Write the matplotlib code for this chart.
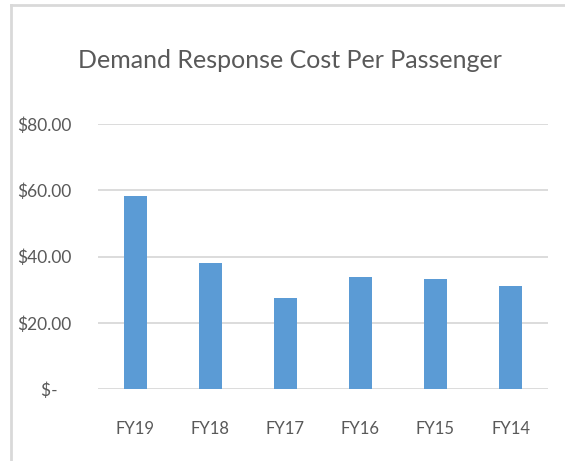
import matplotlib
matplotlib.use("Agg")
import matplotlib.pyplot as plt
from matplotlib.lines import Line2D

years = ["FY19", "FY18", "FY17", "FY16", "FY15", "FY14"]
cost = [58.4, 38.0, 27.4, 33.9, 33.3, 31.1]
yticks = [0, 20, 40, 60, 80]
ylabels = ["$-   ", "$20.00", "$40.00", "$60.00", "$80.00"]

plt.rcParams['font.family'] = ['Lato', 'DejaVu Sans']
txt = '#595959'
grid = '#d9d9d9'

fig = plt.figure(figsize=(5.65, 4.61), dpi=100)
ax = fig.add_axes([0.173, 0.156, 0.797, 0.575])

x = range(len(years))
ax.bar(x, cost, width=0.31, color='#5b9bd5', zorder=3)

ax.set_xlim(-0.5, len(years) - 0.5)
ax.set_ylim(0, 80)
ax.set_yticks(yticks)
ax.set_yticklabels(ylabels)
ax.set_xticks(list(x))
ax.set_xticklabels(years)
ax.tick_params(axis='both', length=0, labelsize=12.5, colors=txt)
ax.tick_params(axis='x', labelsize=12)
ax.tick_params(axis='y', pad=19)
ax.tick_params(axis='x', pad=23)
ax.grid(axis='y', color=grid, linewidth=1.3, zorder=0)
for s in ax.spines.values():
    s.set_visible(False)

fig.text(0.513, 0.868, "Demand Response Cost Per Passenger", ha='center',
         va='center', fontsize=18, color=txt)

# chart border (top and left edges visible)
fig.add_artist(Line2D([11/565, 1], [1 - 5/461, 1 - 5/461], color=grid, lw=2))
fig.add_artist(Line2D([11/565, 11/565], [0, 1 - 5/461], color=grid, lw=2))

fig.savefig("out.png", dpi=100)
